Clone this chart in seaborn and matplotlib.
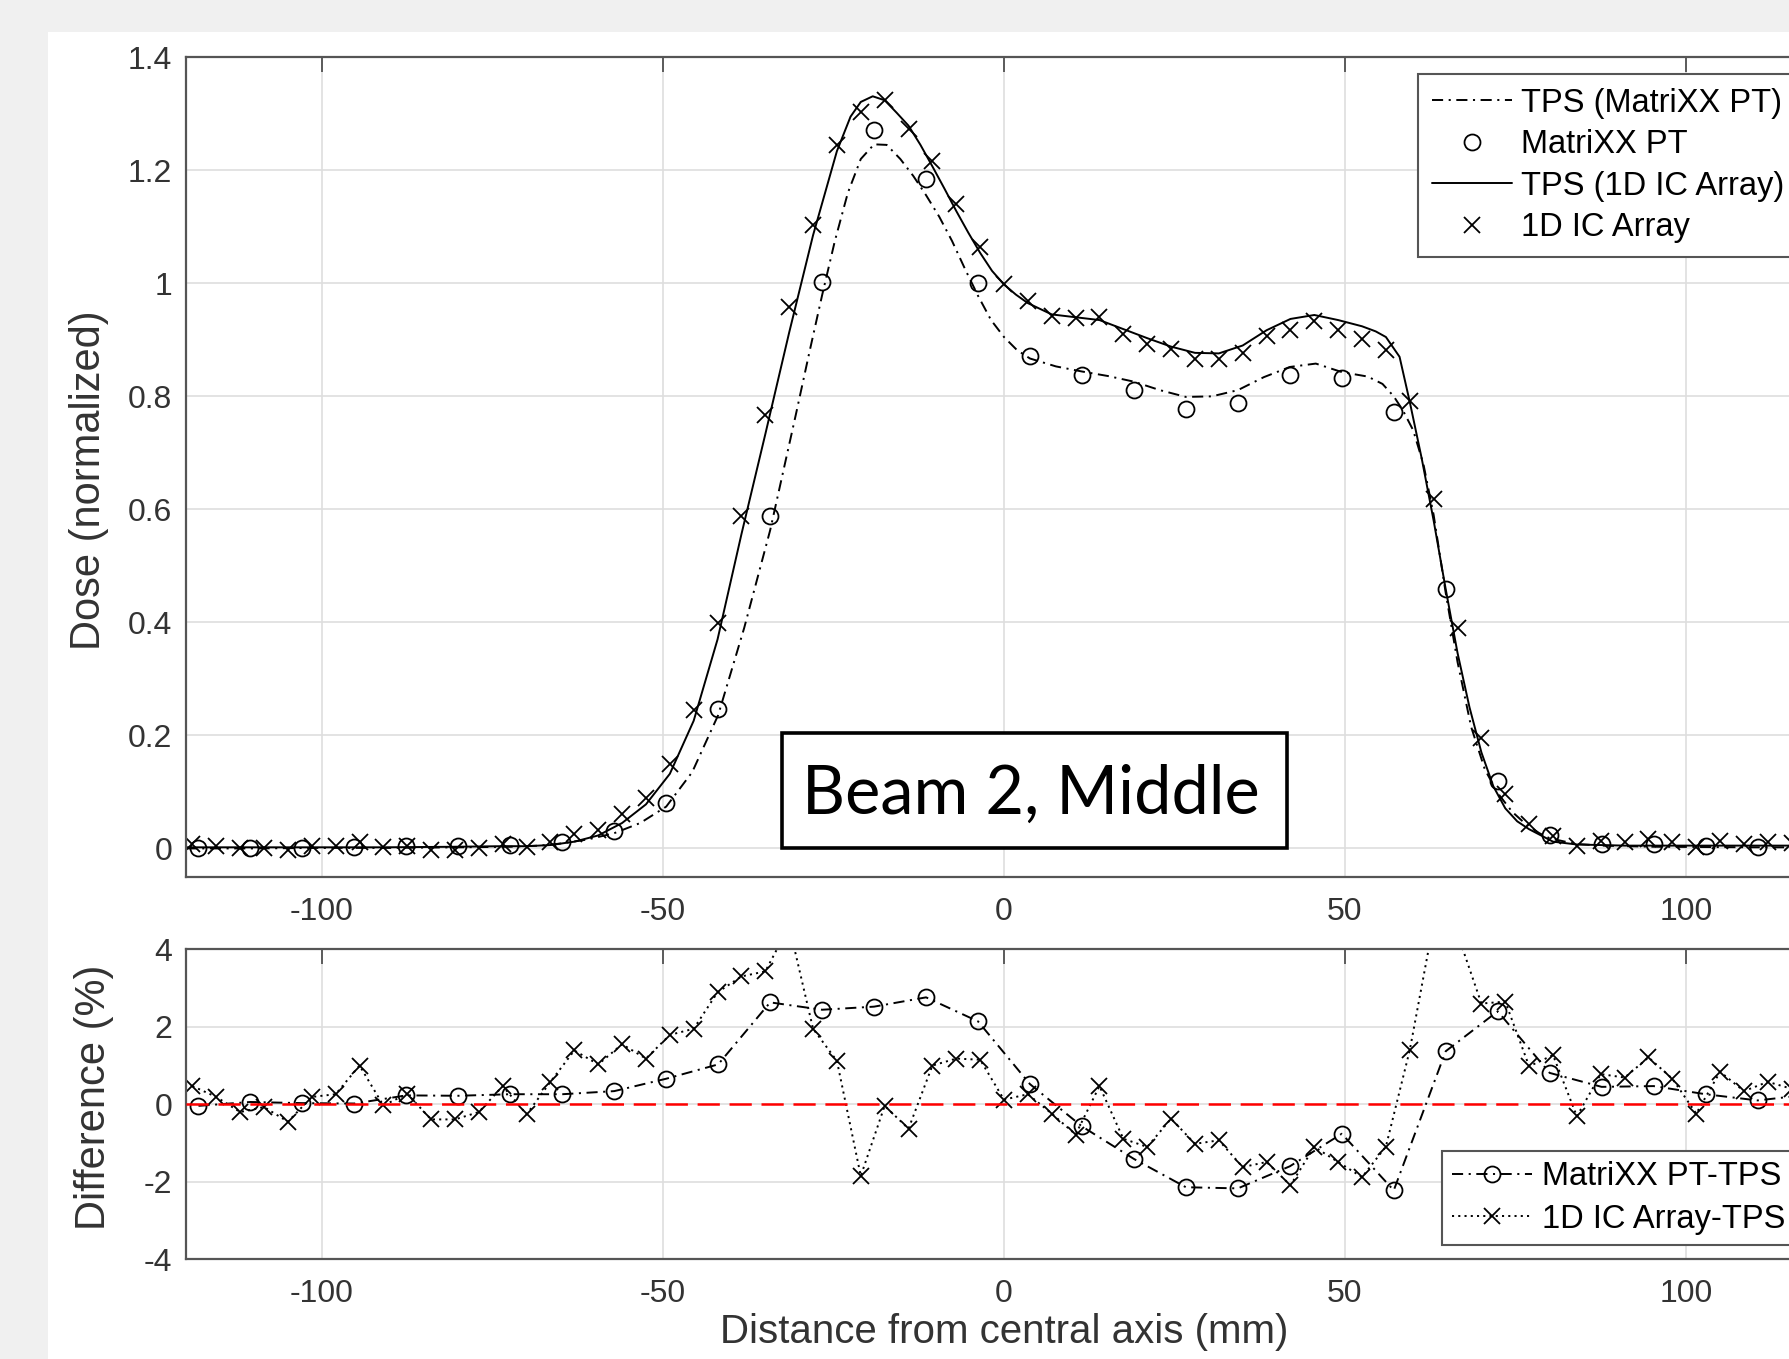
import matplotlib
matplotlib.use("Agg")
import matplotlib.pyplot as plt
import pandas as pd
import seaborn as sns
from matplotlib.patches import Rectangle

# values
ic_pos = [-119, -115.5, -112, -108.5, -105, -101.5, -98, -94.5, -91, -87.5, -84, -80.5,
          -77, -73.5, -70, -66.5, -63, -59.5, -56, -52.5, -49, -45.5, -42, -38.5, -35,
          -31.5, -28, -24.5, -21, -17.5, -14, -10.5, -7, -3.5, 0, 3.5, 7, 10.5, 14, 17.5,
          21, 24.5, 28, 31.5, 35, 38.5, 42, 45.5, 49, 52.5, 56, 59.5, 63, 66.5, 70, 73.5,
          77, 80.5, 84, 87.5, 91, 94.5, 98, 101.5, 105, 108.5, 112, 115.5, 119]
ic_dose = [0.007, 0.004, 0.000, 0.001, -0.002, 0.004, 0.005, 0.012, 0.002, 0.005, -0.002,
           -0.002, 0.001, 0.008, 0.002, 0.012,
           0.026, 0.033, 0.061, 0.090, 0.150, 0.245, 0.399, 0.589, 0.767, 0.959, 1.104,
           1.245, 1.303, 1.324, 1.273, 1.217, 1.140, 1.065,
           0.999,
           0.968, 0.943, 0.938, 0.940, 0.910, 0.892, 0.884, 0.867, 0.867, 0.877, 0.906,
           0.918, 0.933, 0.918, 0.901, 0.882,
           0.792, 0.619, 0.390, 0.196, 0.097, 0.044, 0.022,
           0.004, 0.013, 0.012, 0.017, 0.012, 0.003, 0.013, 0.008, 0.011, 0.009, 0.008]
ic_diff = [0.47, 0.19, -0.20, -0.07, -0.45, 0.19, 0.26, 1.00, -0.03, 0.27, -0.39, -0.39,
           -0.20, 0.47, -0.26, 0.58,
           1.39, 1.03, 1.55, 1.18, 1.79, 1.95, 2.89, 3.30, 3.43, 4.6, 1.95, 1.12, -1.85,
           -0.04, -0.63, 1.00, 1.18, 1.15,
           0.12,
           0.26, -0.24, -0.78, 0.47, -0.89, -1.10, -0.37, -1.02, -0.93, -1.62, -1.49,
           -2.09, -1.10, -1.49, -1.88, -1.09,
           1.40, 4.7, 4.4, 2.60, 2.65, 0.98, 1.27,
           -0.31, 0.78, 0.69, 1.21, 0.66, -0.24, 0.84, 0.34, 0.58, 0.40, 0.30]

mxx_pos = [-118.11, -110.49, -102.87, -95.25, -87.63, -80.01, -72.39, -64.77, -57.15,
           -49.53, -41.91, -34.29, -26.67, -19.05, -11.43, -3.81, 3.81, 11.43, 19.05,
           26.67, 34.29, 41.91, 49.53, 57.15, 64.77, 72.39, 80.01, 87.63, 95.25, 102.87,
           110.49, 118.11]
mxx_dose = [0.001, 0.001, 0.001, 0.003, 0.004, 0.004, 0.006, 0.012, 0.030, 0.081, 0.246,
            0.589, 1.003, 1.271, 1.184, 1.001, 0.872, 0.838, 0.812, 0.778, 0.789, 0.838,
            0.833, 0.773, 0.459, 0.119, 0.024, 0.008, 0.007, 0.004, 0.002, 0.003]
mxx_diff = [-0.04, 0.06, 0.03, 0.02, 0.23, 0.22, 0.26, 0.26, 0.34, 0.66, 1.03, 2.63, 2.44,
            2.52, 2.76, 2.14, 0.52, -0.57, -1.41, -2.14, -2.17, -1.60, -0.76, -2.22, 1.37,
            2.40, 0.81, 0.45, 0.47, 0.26, 0.10, 0.25]

tps_mxx_pos = [-120, -110, -100, -90, -80, -72.39, -68, -64.77, -61, -57.15, -53.34, -49.53,
               -45.72, -41.91, -38.1, -34.29, -30.48, -28.5, -26.67, -24.8, -22.9, -21,
               -19.05, -17.2, -15.2, -13.3, -11.43, -9.5, -7.62, -5.7, -3.81, -1.9, 0, 1.9,
               3.81, 7.62, 11.43, 15.24, 19.05, 22.86, 26.67, 30.48, 34.29, 38.1, 41.91,
               45.72, 49.53, 53.34, 55.5, 57.15, 58.5, 60, 61.5, 63, 64.77, 66.5, 68.5, 70.5,
               72.39, 74.5, 76.5, 78.5, 80.01, 83.8, 87.63, 95.25, 110.49, 120]
tps_mxx_dose = [0.000, 0.000, 0.001, 0.001, 0.002, 0.003, 0.005, 0.009, 0.016, 0.027, 0.045,
                0.074, 0.135, 0.236, 0.390, 0.563, 0.770, 0.880, 0.979, 1.075, 1.160, 1.220,
                1.246, 1.245, 1.220, 1.190, 1.156, 1.118, 1.075, 1.025, 0.978, 0.935, 0.905,
                0.882, 0.867, 0.853, 0.844, 0.836, 0.826, 0.811, 0.799, 0.800, 0.811, 0.834,
                0.852, 0.858, 0.843, 0.835, 0.822, 0.800, 0.775, 0.740, 0.680, 0.590, 0.452,
                0.330, 0.215, 0.140, 0.098, 0.065, 0.043, 0.027, 0.018, 0.008, 0.005, 0.003,
                0.002, 0.002]

tps_ic_pos = [-120, -105, -91, -80.5, -73.5, -70, -66.5, -63, -59.5, -56, -52.5, -49, -45.5,
              -42, -38.5, -35, -31.5, -28, -24.5, -22.5, -21, -19.25, -17.5, -15.75, -14,
              -12.25, -10.5, -8.75, -7, -5.25, -3.5, -1.75, 0, 1.75, 3.5, 7, 10.5, 14, 17.5,
              21, 24.5, 28, 31.5, 35, 38.5, 42, 45.5, 49, 52.5, 54.5, 56, 58, 59.5, 61.25,
              63, 64.75, 66.5, 68.25, 70, 71.75, 73.5, 75.25, 77, 80.5, 84, 91, 105, 120]
tps_ic_dose = [0.002, 0.002, 0.002, 0.003, 0.004, 0.004, 0.006, 0.012, 0.023, 0.045, 0.078,
               0.132, 0.226, 0.370, 0.556, 0.733, 0.913, 1.085, 1.234, 1.295, 1.321, 1.331,
               1.324, 1.302, 1.279, 1.245, 1.207, 1.168, 1.128, 1.090, 1.054, 1.022, 0.998,
               0.980, 0.965, 0.945, 0.940, 0.935, 0.919, 0.903, 0.888, 0.877, 0.876, 0.890,
               0.917, 0.937, 0.944, 0.935, 0.924, 0.915, 0.905, 0.870, 0.790, 0.690, 0.580,
               0.460, 0.346, 0.250, 0.170, 0.110, 0.071, 0.048, 0.034, 0.012, 0.007, 0.005,
               0.005, 0.005]

x_ticks = [-100, -50, 0, 50, 100]
dose_ticks = [0, 0.2, 0.4, 0.6, 0.8, 1, 1.2, 1.4]
diff_ticks = [-4, -2, 0, 2, 4]

W, H = 1789, 1359
FONT = ["Liberation Sans", "DejaVu Sans"]
INK = "#333333"
DASHDOT = (0, (8, 4, 1.5, 4))
DOTTED = (0, (1.5, 3))
TICK_FS = 23
LEG_FS = 23.5
LABEL_FS = 30

sns.set_theme(style="white")
plt.rcParams["font.family"] = FONT
plt.rcParams["axes.unicode_minus"] = False
plt.rcParams["lines.scale_dashes"] = False

fig = plt.figure(figsize=(W / 100, H / 100), dpi=100, facecolor="#f0f0f0")
fig.add_artist(Rectangle((48 / W, 0), 1, 1 - 32 / H, transform=fig.transFigure,
                         facecolor="white", edgecolor="none", zorder=-1))

ax1 = fig.add_axes([185.6 / W, 1 - 876.7 / H, 1636.8 / W, 819.4 / H])
ax2 = fig.add_axes([185.6 / W, 1 - 1259.3 / H, 1636.8 / W, 310 / H])

common = dict(estimator=None, sort=False, color="black")
mk = dict(markersize=11.5, mfc="none", mec="black", mew=1.3)

# top panel: dose profiles
sns.lineplot(x=tps_mxx_pos, y=tps_mxx_dose, ax=ax1, linestyle=DASHDOT, lw=1.4,
             label="TPS (MatriXX PT)", **common)
sns.lineplot(x=mxx_pos, y=mxx_dose, ax=ax1, linestyle="none", marker="o",
             label="MatriXX PT", **mk, **common)
sns.lineplot(x=tps_ic_pos, y=tps_ic_dose, ax=ax1, linestyle="-", lw=1.4,
             label="TPS (1D IC Array)", **common)
sns.lineplot(x=ic_pos, y=ic_dose, ax=ax1, linestyle="none", marker="x",
             label="1D IC Array", **mk, **common)

# bottom panel: differences
sns.lineplot(x=mxx_pos, y=mxx_diff, ax=ax2, linestyle=DASHDOT, lw=1.4, marker="o",
             label="MatriXX PT-TPS", **mk, **common)
sns.lineplot(x=ic_pos, y=ic_diff, ax=ax2, linestyle=DOTTED, lw=1.4, marker="x",
             label="1D IC Array-TPS", **mk, **common)
ax2.axhline(0, color="red", linestyle=(0, (16, 7)), lw=1.8, zorder=5)

for ax, ylim, yt in [(ax1, (-0.05, 1.4), dose_ticks), (ax2, (-4, 4), diff_ticks)]:
    ax.set_xlim(-120, 120)
    ax.set_ylim(*ylim)
    ax.set_xticks(x_ticks)
    ax.set_yticks(yt)
    ax.set_yticklabels([f"{v:g}" for v in yt])
    ax.set_facecolor("white")
    ax.grid(True, color="#dedede", lw=1.2)
    ax.set_axisbelow(True)
    ax.tick_params(axis="both", direction="in", length=11, width=1.2, color="#444444",
                   labelsize=TICK_FS, labelcolor=INK, top=True, right=True)
    ax.tick_params(axis="x", pad=14.3)
    ax.tick_params(axis="y", pad=9.6)
    for sp in ax.spines.values():
        sp.set_color("#555555")
        sp.set_linewidth(1.6)

ax1.set_xlabel("")
ax1.set_ylabel("Dose (normalized)", fontsize=LABEL_FS, color=INK)
ax1.yaxis.set_label_coords(-0.047, 0.484)
ax2.set_ylabel("Difference (%)", fontsize=LABEL_FS, color=INK)
ax2.yaxis.set_label_coords(-0.0437, 0.522)
ax2.set_xlabel("Distance from central axis (mm)", fontsize=29, color=INK)
ax2.xaxis.set_label_coords(0.5, -0.172)

leg_kw = dict(loc="upper left", bbox_transform=fig.transFigure, frameon=True,
              fancybox=False, framealpha=1, edgecolor="#555555", borderaxespad=0,
              fontsize=LEG_FS, numpoints=1, labelcolor="black")
leg1 = ax1.legend(handles=ax1.get_lines()[:4],
                  labels=["TPS (MatriXX PT)", "MatriXX PT", "TPS (1D IC Array)", "1D IC Array"],
                  bbox_to_anchor=(1418 / W, 1 - 74 / H), borderpad=0.42, labelspacing=0.32,
                  handlelength=2.45, handletextpad=0.3, **leg_kw)
leg1.get_frame().set_linewidth(1.5)
leg2 = ax2.legend(handles=ax2.get_lines()[:2], labels=["MatriXX PT-TPS", "1D IC Array-TPS"],
                  bbox_to_anchor=(1442 / W, 1 - 1150.5 / H), borderpad=0.32,
                  labelspacing=0.36, handlelength=2.45, handletextpad=0.3, **leg_kw)
leg2.get_frame().set_linewidth(1.5)

# annotation box
fig.add_artist(Rectangle((781.7 / W, 1 - 848 / H), (1287 - 781.7) / W, (848 - 733) / H,
                         transform=fig.transFigure, facecolor="white", edgecolor="black",
                         lw=2.6, zorder=5))
fig.text(1031 / W, 1 - 814 / H, "Beam 2, Middle", ha="center", va="baseline",
         fontsize=48, family=["Lato", "DejaVu Sans"], color="black", zorder=6)

fig.savefig("out.png", dpi=100, facecolor=fig.get_facecolor())
